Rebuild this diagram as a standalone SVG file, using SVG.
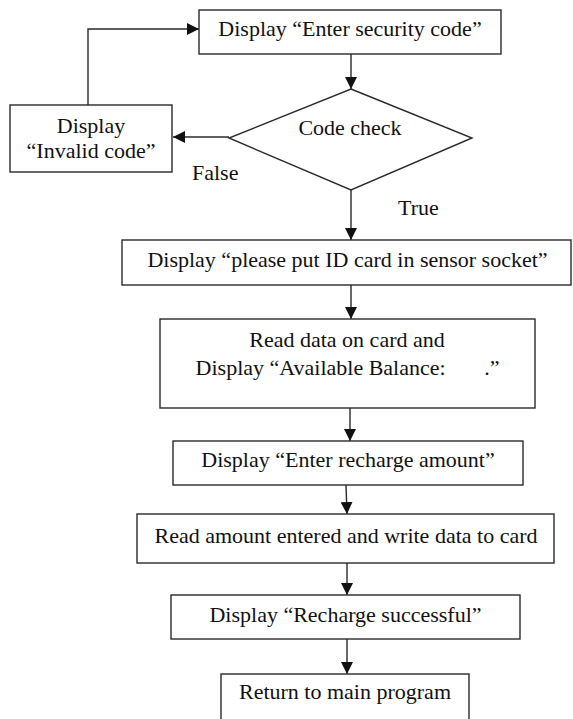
<svg xmlns="http://www.w3.org/2000/svg" width="573" height="719" viewBox="0 0 573 719">
  <style>
    .box { fill: #ffffff; stroke: #2a2a2a; stroke-width: 1.4; }
    .lbl { text-anchor: middle; }
    .wire { fill: none; stroke: #2a2a2a; stroke-width: 1.4; }
  </style>
  <defs>
    <marker id="arrow" viewBox="0 0 12 12" refX="12" refY="6" markerWidth="12" markerHeight="12" markerUnits="userSpaceOnUse" orient="auto">
      <path d="M0,0 L12,6 L0,12 Z" fill="#111111"/>
    </marker>
  </defs>
  <rect width="573" height="719" fill="#ffffff"/>

  <g font-family="Liberation Serif, DejaVu Serif, serif" font-size="22" fill="#111111">
  <!-- connectors -->
  <g id="connectors">
    <path class="wire" d="M351,54 L351,89" marker-end="url(#arrow)"/>
    <path class="wire" d="M229,137 L173,137" marker-end="url(#arrow)"/>
    <path class="wire" d="M88,105 L88,29 L199,29" marker-end="url(#arrow)"/>
    <path class="wire" d="M351,190 L351,240" marker-end="url(#arrow)"/>
    <path class="wire" d="M351,285 L351,319" marker-end="url(#arrow)"/>
    <path class="wire" d="M350,408 L350,441" marker-end="url(#arrow)"/>
    <path class="wire" d="M346,485 L347,514" marker-end="url(#arrow)"/>
    <path class="wire" d="M347,563 L347,595" marker-end="url(#arrow)"/>
    <path class="wire" d="M347,639 L347,674" marker-end="url(#arrow)"/>
    <text x="192" y="180">False</text>
    <text x="398" y="215">True</text>
  </g>

  <g id="enter-code">
    <rect class="box" x="199" y="10" width="302" height="44"/>
    <text class="lbl" x="350" y="35.5">Display “Enter security code”</text>
  </g>

  <g id="code-check">
    <polygon class="box" points="351,89 472,138 351,190 229,138"/>
    <text class="lbl" x="350" y="135">Code check</text>
  </g>

  <g id="invalid-code">
    <rect class="box" x="10" y="105" width="162" height="67"/>
    <text class="lbl" x="91" y="133">Display</text>
    <text class="lbl" x="91" y="158">“Invalid code”</text>
  </g>

  <g id="put-card">
    <rect class="box" x="122" y="240" width="449" height="45"/>
    <text class="lbl" x="347.5" y="267">Display “please put ID card in sensor socket”</text>
  </g>

  <g id="read-balance">
    <rect class="box" x="160" y="319" width="375" height="89"/>
    <text class="lbl" x="347" y="347">Read data on card and</text>
    <text class="lbl" x="347.5" y="375" xml:space="preserve">Display “Available Balance:       .”</text>
  </g>

  <g id="enter-amount">
    <rect class="box" x="173" y="441" width="350" height="44"/>
    <text class="lbl" x="348" y="467">Display “Enter recharge amount”</text>
  </g>

  <g id="write-card">
    <rect class="box" x="137" y="514" width="417" height="49"/>
    <text class="lbl" x="346" y="543">Read amount entered and write data to card</text>
  </g>

  <g id="recharge-ok">
    <rect class="box" x="171" y="595" width="349" height="44"/>
    <text class="lbl" x="345.5" y="622">Display “Recharge successful”</text>
  </g>

  <g id="return-main">
    <rect class="box" x="221" y="674" width="248" height="60"/>
    <text class="lbl" x="345" y="699">Return to main program</text>
  </g>
  </g>
</svg>
